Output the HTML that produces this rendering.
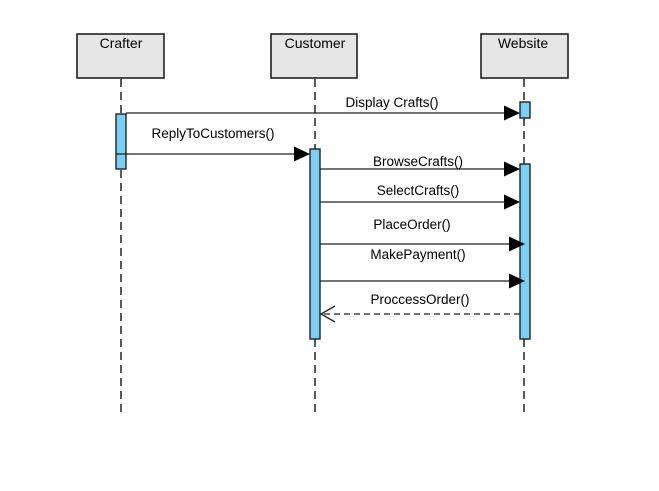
<!DOCTYPE html>
<html><head><meta charset="utf-8"><style>
html,body{margin:0;padding:0;background:#fff;width:659px;height:491px;overflow:hidden}
svg text{font-family:"Liberation Sans",Arial,sans-serif;font-size:13.5px;fill:#000}
</style></head><body>
<svg width="659" height="491" viewBox="0 0 659 491" xmlns="http://www.w3.org/2000/svg">
<g stroke="#000" stroke-width="1.3" stroke-dasharray="8,5" fill="none">
<line x1="121" y1="79" x2="121" y2="413"/>
<line x1="315" y1="79" x2="315" y2="413"/>
<line x1="524" y1="79" x2="524" y2="413"/>
</g>
<g fill="#e6e6e6" stroke="#222" stroke-width="1.6">
<rect x="77" y="34" width="87" height="44"/>
<rect x="271" y="34" width="86" height="44"/>
<rect x="481" y="34" width="87" height="44"/>
</g>
<g font-size="14">
<text x="121" y="48" text-anchor="middle" style="font-size:14px">Crafter</text>
<text x="315" y="48" text-anchor="middle" style="font-size:14px">Customer</text>
<text x="523" y="48" text-anchor="middle" style="font-size:14px">Website</text>
</g>
<g fill="#7acff5" stroke="#222" stroke-width="1.4">
<rect x="116" y="114" width="10" height="55"/>
<rect x="520" y="102" width="10" height="16"/>
<rect x="310" y="149" width="10" height="190"/>
<rect x="520" y="164" width="10" height="175"/>
</g>
<g stroke="#222" stroke-width="1.3" fill="none">
<line x1="126" y1="113" x2="505" y2="113"/>
<line x1="116" y1="154" x2="295" y2="154"/>
<line x1="320" y1="169" x2="505" y2="169"/>
<line x1="320" y1="202" x2="505" y2="202"/>
<line x1="320" y1="244" x2="510" y2="244"/>
<line x1="320" y1="281" x2="510" y2="281"/>
<line x1="520" y1="314" x2="321" y2="314" stroke-dasharray="6,4"/>
<polyline points="335,306 321,314 335,322"/>
</g>
<g fill="#000">
<path d="M504,105.5 L520,113 L504,120.5Z"/>
<path d="M294,146.5 L310,154 L294,161.5Z"/>
<path d="M504,161.5 L520,169 L504,176.5Z"/>
<path d="M504,194.5 L520,202 L504,209.5Z"/>
<path d="M509,236.5 L525,244 L509,251.5Z"/>
<path d="M509,273.5 L525,281 L509,288.5Z"/>
</g>
<text x="392" y="107" text-anchor="middle">Display Crafts()</text>
<text x="213" y="138" text-anchor="middle">ReplyToCustomers()</text>
<text x="418" y="166" text-anchor="middle">BrowseCrafts()</text>
<text x="418" y="195" text-anchor="middle">SelectCrafts()</text>
<text x="412" y="229" text-anchor="middle">PlaceOrder()</text>
<text x="418" y="259" text-anchor="middle">MakePayment()</text>
<text x="420" y="304" text-anchor="middle">ProccessOrder()</text>
</svg>
</body></html>
